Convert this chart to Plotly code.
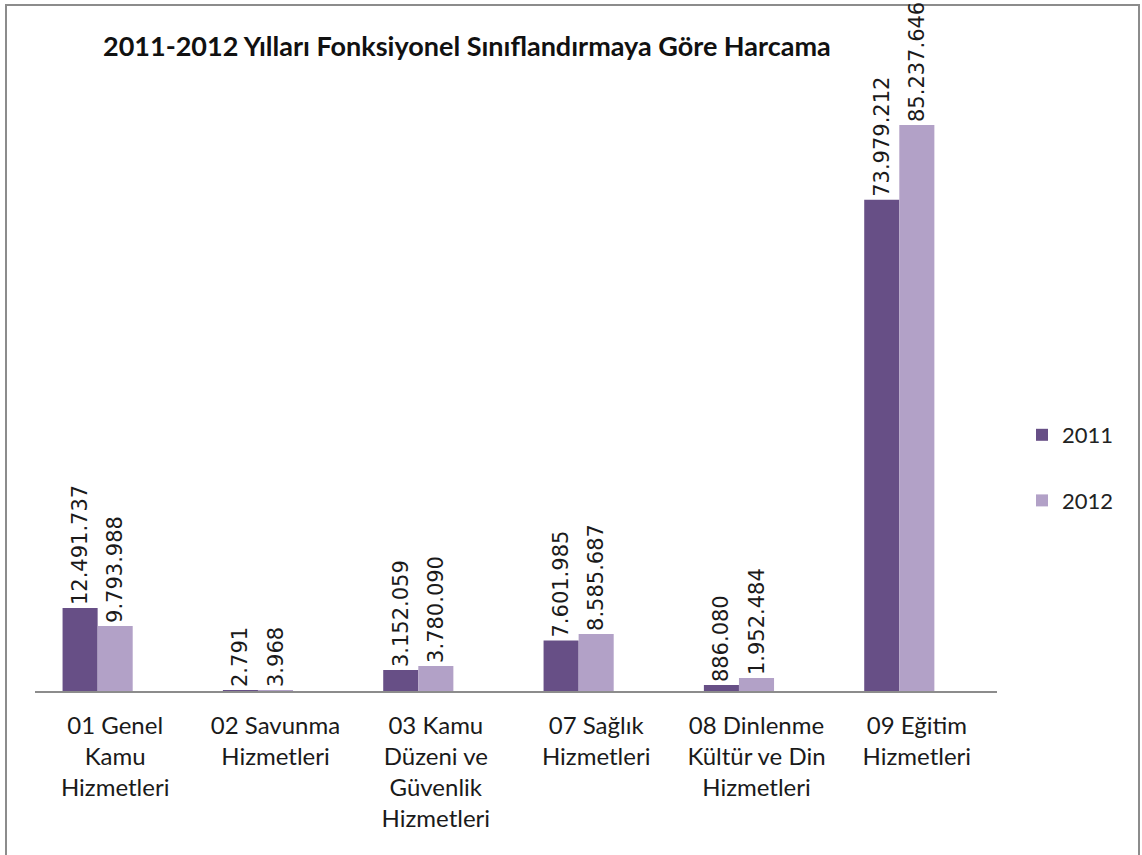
import plotly.graph_objects as go

categories = [
    "01 Genel<br>Kamu<br>Hizmetleri",
    "02 Savunma<br>Hizmetleri",
    "03 Kamu<br>Düzeni ve<br>Güvenlik<br>Hizmetleri",
    "07 Sağlık<br>Hizmetleri",
    "08 Dinlenme<br>Kültür ve Din<br>Hizmetleri",
    "09 Eğitim<br>Hizmetleri",
]
values_2011 = [12491737, 2791, 3152059, 7601985, 886080, 73979212]
values_2012 = [9793988, 3968, 3780090, 8585687, 1952484, 85237646]
labels_2011 = ["12.491.737", "2.791", "3.152.059", "7.601.985", "886.080", "73.979.212"]
labels_2012 = ["9.793.988", "3.968", "3.780.090", "8.585.687", "1.952.484", "85.237.646"]

W, H = 1142, 855
L, R, T, B = 35, 997, 27, 691

def px_x(px):
    return (px - L) / (R - L)

def px_y(py):
    return (B - py) / (B - T)

bw = 35 / 160.0
fig = go.Figure()
fig.add_trace(go.Bar(
    x=categories, y=values_2011, name="2011", legendgroup="a",
    marker=dict(color="#674F86", line=dict(width=0)),
    width=bw, offset=-1.5 * bw,
    text=labels_2011, textposition="outside", textangle=-90,
    textfont=dict(family="DejaVu Sans", size=21, color="#1a1a1a"),
    constraintext="none", cliponaxis=False,
))
fig.add_trace(go.Bar(
    x=categories, y=values_2012, name="2012", legendgroup="b",
    marker=dict(color="#B2A1C7", line=dict(width=0)),
    width=bw, offset=-0.5 * bw,
    text=labels_2012, textposition="outside", textangle=-90,
    textfont=dict(family="DejaVu Sans", size=21, color="#1a1a1a"),
    constraintext="none", cliponaxis=False,
))

fig.update_layout(
    width=W, height=H,
    margin=dict(l=L, r=W - R, t=T, b=H - B, pad=0),
    paper_bgcolor="white", plot_bgcolor="white",
    barmode="overlay",
    showlegend=True,
    legend=dict(x=px_x(1022), y=px_y(468), xanchor="left", yanchor="middle",
                font=dict(family="Lato", size=22, color="#222"),
                traceorder="grouped", tracegroupgap=34, bgcolor="rgba(0,0,0,0)"),
    xaxis=dict(type="category", range=[-0.5, 5.5], showline=True, linecolor="#8c8c8c",
               linewidth=2, ticks="", showgrid=False, zeroline=False,
               tickfont=dict(family="Lato", size=24, color="#1a1a1a"),
               ticklabelstandoff=12, fixedrange=True),
    yaxis=dict(range=[0, 100000000], showticklabels=False, showgrid=False,
               zeroline=False, showline=False, ticks=""),
    annotations=[dict(
        text="<b>2011-2012 Yılları Fonksiyonel Sınıflandırmaya Göre Harcama</b>",
        xref="paper", yref="paper", x=px_x(467), y=px_y(45),
        xanchor="center", yanchor="middle", showarrow=False,
        font=dict(family="Lato", size=27, color="#111"),
    )],
    shapes=[dict(type="rect", xref="paper", yref="paper",
                 x0=px_x(6), x1=px_x(1139), y0=px_y(900), y1=px_y(5),
                 line=dict(color="#8c8c8c", width=2), fillcolor="rgba(0,0,0,0)",
                 layer="below")],
)

fig.write_html("out.html", config={"displayModeBar": False},
               post_script="document.body.style.margin='0';document.body.style.overflow='hidden';")
